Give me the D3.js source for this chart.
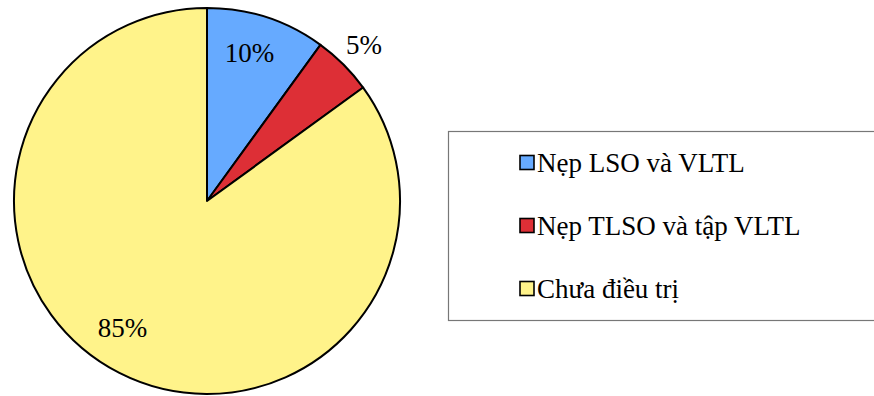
<!DOCTYPE html>
<html>
<head>
<meta charset="utf-8">
<script src="https://cdn.jsdelivr.net/npm/d3@7"></script>
<style>
  body { margin: 0; background: #fff; font-family: serif; }
</style>
</head>
<body>
<div id="chart"></div>
<script>
// Chart data
var categories = ['Nẹp LSO và VLTL', 'Nẹp TLSO và tập VLTL', 'Chưa điều trị'];
var values = [10, 5, 85];
var colors = ['#66aaff', '#dd2f36', '#fff38a'];

var width = 874, height = 396;
var cx = 207, cy = 201, radius = 193;

var svg = d3.select('#chart').append('svg')
            .attr('width', width)
            .attr('height', height)
            .attr('font-family', 'serif');

var pie = d3.pie().sort(null).value(function(d) { return d; });
var arcs = pie(values);

var arc = d3.arc().innerRadius(0).outerRadius(radius);

var pieGroup = svg.append('g')
                  .attr('transform', 'translate(' + cx + ',' + cy + ')');

pieGroup.selectAll('path')
        .data(arcs)
        .enter()
        .append('path')
        .attr('d', arc)
        .style('fill', function(_, i) { return colors[i]; })
        .style('stroke', '#000')
        .style('stroke-width', 2)
        .style('stroke-linejoin', 'round');

// Percent labels: radius factor and angle shift (degrees) from the slice middle
var labelRadius = [0.80, 1.15, 0.79];
var labelShift = [-2, 0, 6.7];
pieGroup.selectAll('text.pct')
        .data(arcs)
        .enter()
        .append('text')
        .attr('class', 'pct')
        .attr('transform', function(d, i) {
          var a = (d.startAngle + d.endAngle) / 2 + labelShift[i] * Math.PI / 180;
          var r = radius * labelRadius[i];
          return 'translate(' + (r * Math.sin(a)) + ',' + (-r * Math.cos(a)) + ')';
        })
        .attr('text-anchor', 'middle')
        .attr('dy', '0.35em')
        .attr('font-family', 'serif')
        .attr('font-size', 27)
        .attr('fill', '#000')
        .text(function(d) { return d.value + '%'; });

// Legend box (right edge runs off the picture)
var legend = svg.append('g').attr('transform', 'translate(448,131)');
legend.append('rect')
      .attr('x', 0.5).attr('y', 0.5)
      .attr('width', 440).attr('height', 189)
      .style('fill', '#fff')
      .style('stroke', '#777')
      .style('stroke-width', 1.2);

var rowY = d3.scalePoint().domain(categories).range([31.5, 157.5]);

var rows = legend.selectAll('g.row')
                 .data(categories)
                 .enter()
                 .append('g')
                 .attr('class', 'row')
                 .attr('transform', function(d) { return 'translate(0,' + rowY(d) + ')'; });

rows.append('rect')
    .attr('x', 72).attr('y', -7)
    .attr('width', 14).attr('height', 14)
    .style('fill', function(_, i) { return colors[i]; })
    .style('stroke', '#000')
    .style('stroke-width', 1.6);

rows.append('text')
    .attr('x', 89)
    .attr('dy', '0.35em')
    .attr('font-family', 'serif')
    .attr('font-size', 27)
    .attr('fill', '#000')
    .text(function(d) { return d; });
</script>
</body>
</html>
